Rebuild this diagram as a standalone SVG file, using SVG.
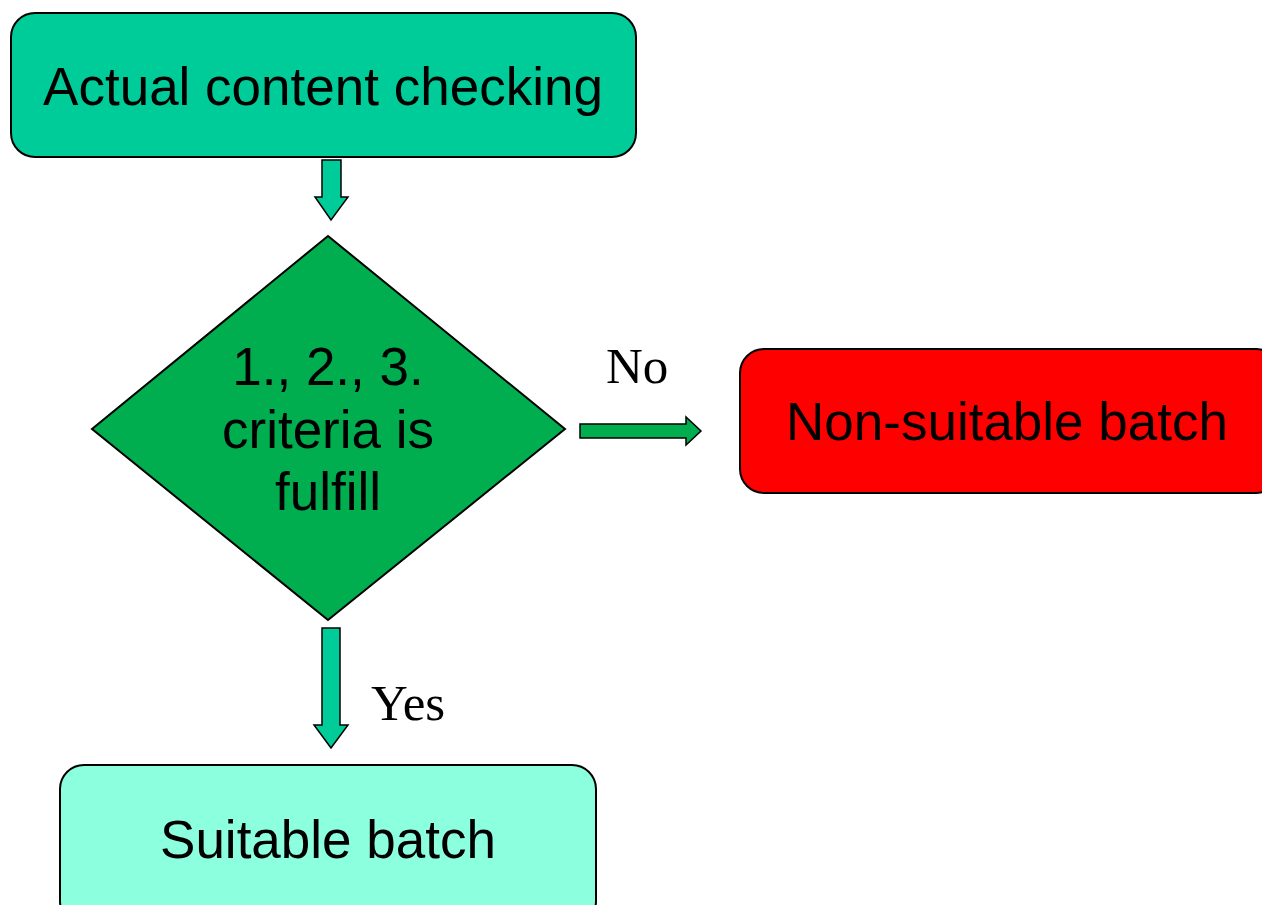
<svg xmlns="http://www.w3.org/2000/svg" width="1262" height="905" viewBox="0 0 1262 905">
  <style>
    .box { stroke: #000; stroke-width: 2; }
    .lbl { font-family: "Liberation Sans", Arial, sans-serif; font-size: 53px; fill: #000; text-anchor: middle; }
    .tag { font-family: "Liberation Serif", "Times New Roman", serif; font-size: 51px; fill: #000; }
    .arrow { stroke: #000; stroke-width: 1.5; stroke-linejoin: miter; }
  </style>
  <rect width="1262" height="905" fill="#fff"/>

  <g id="start">
    <rect class="box" x="11" y="13" width="625" height="144" rx="24" fill="#00CC99"/>
    <text class="lbl" x="323" y="105">Actual content checking</text>
  </g>

  <g id="decision">
    <polygon class="box" points="328,236 565,429 328,620 92,429" fill="#00AD4F" stroke-width="1.5"/>
    <text class="lbl" x="328" y="385">1., 2., 3.</text>
    <text class="lbl" x="328" y="448">criteria is</text>
    <text class="lbl" x="328" y="510">fulfill</text>
  </g>

  <g id="reject">
    <rect class="box" x="740" y="349" width="540" height="144" rx="24" fill="#FF0000"/>
    <text class="lbl" x="1007" y="440">Non-suitable batch</text>
  </g>

  <g id="accept">
    <rect class="box" x="60" y="765" width="536" height="160" rx="24" fill="#8CFFDE"/>
    <text class="lbl" x="328" y="858">Suitable batch</text>
  </g>

  <g id="connectors">
    <polygon class="arrow" fill="#00CC99" points="322,160 341,160 341,197 348,197 331,220 315,197 322,197"/>
    <polygon class="arrow" fill="#00AD4F" points="580,424 686,424 686,417 701,431 686,445 686,438 580,438"/>
    <polygon class="arrow" fill="#00CC99" points="322,628 340,628 340,725 348,725 331,748 314,725 322,725"/>
    <text class="tag" x="606" y="383">No</text>
    <text class="tag" x="371" y="720">Yes</text>
  </g>
</svg>
